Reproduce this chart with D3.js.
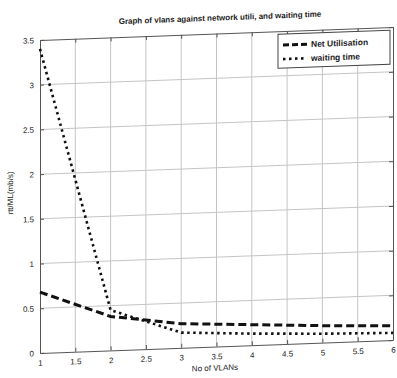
<!DOCTYPE html>
<html>
<head>
<meta charset="utf-8">
<script src="https://cdn.jsdelivr.net/npm/d3@7"></script>
<style>
  body { margin: 0; background: #fff; }
  text { font-family: "Liberation Sans", Arial, sans-serif; fill: #222; }
</style>
</head>
<body>
<script>
// chart data
var vlans = [1, 2, 3, 4, 5, 6];
var netUtil = [0.68, 0.38, 0.27, 0.23, 0.19, 0.16];
var waitTime = [3.4, 0.45, 0.17, 0.13, 0.1, 0.08];
var xTicks = [1, 1.5, 2, 2.5, 3, 3.5, 4, 4.5, 5, 5.5, 6];
var yTicks = [0, 0.5, 1, 1.5, 2, 2.5, 3, 3.5];

var W = 397, H = 378;
var margin = { top: 40, right: 4, bottom: 25, left: 40 },
  width = W - margin.left - margin.right,
  height = H - margin.top - margin.bottom;

var svg = d3.select("body").append("svg")
  .attr("width", W)
  .attr("height", H);

// the scanned page is slightly skewed
var page = svg.append("g")
  .attr("transform", "translate(40,353) skewY(-2.1) translate(-40,-353)");

var g = page.append("g")
  .attr("transform", "translate(" + margin.left + "," + margin.top + ")");

var x = d3.scaleLinear().domain([1, 6]).range([0, width]);
var y = d3.scaleLinear().domain([0, 3.5]).range([height, 0]);
var fmt = function (d) { return String(d); };

// grid
g.append("g").selectAll("line").data(xTicks.slice(1, -1)).enter().append("line")
  .attr("x1", function (d) { return x(d); }).attr("x2", function (d) { return x(d); })
  .attr("y1", 0).attr("y2", height)
  .attr("stroke", "#c4c4c4").attr("stroke-width", 1);
g.append("g").selectAll("line").data(yTicks.slice(1, -1)).enter().append("line")
  .attr("y1", function (d) { return y(d); }).attr("y2", function (d) { return y(d); })
  .attr("x1", 0).attr("x2", width)
  .attr("stroke", "#c4c4c4").attr("stroke-width", 1);

// axes, ticks pointing inward
g.append("g")
  .attr("transform", "translate(0," + height + ")")
  .call(d3.axisBottom(x).tickValues(xTicks).tickFormat(fmt).tickSizeInner(-4).tickSizeOuter(0).tickPadding(7));
g.append("g")
  .call(d3.axisLeft(y).tickValues(yTicks).tickFormat(fmt).tickSizeInner(-4).tickSizeOuter(0).tickPadding(6));
g.append("g")
  .call(d3.axisTop(x).tickValues(xTicks).tickSizeInner(-4).tickSizeOuter(0).tickFormat(""));
g.append("g")
  .attr("transform", "translate(" + width + ",0)")
  .call(d3.axisRight(y).tickValues(yTicks).tickSizeInner(-4).tickSizeOuter(0).tickFormat(""));

g.selectAll(".domain").attr("stroke", "#555");
g.selectAll(".tick line").attr("stroke", "#555");
g.selectAll(".tick text").attr("font-size", 8).attr("fill", "#222")
  .attr("font-family", "'Liberation Sans', Arial, sans-serif");

// lines
var line = function (vals) {
  return d3.line()
    .x(function (d, i) { return x(vlans[i]); })
    .y(function (d) { return y(d); })(vals);
};

g.append("path")
  .attr("d", line(netUtil))
  .attr("fill", "none").attr("stroke", "#111")
  .attr("stroke-width", 3).attr("stroke-dasharray", "8,4");

g.append("path")
  .attr("d", line(waitTime))
  .attr("fill", "none").attr("stroke", "#111")
  .attr("stroke-width", 2.6).attr("stroke-dasharray", "2.5,3.5");

// legend
var lg = g.append("g").attr("transform", "translate(" + (278 - margin.left) + ",3)");
lg.append("rect")
  .attr("width", 112).attr("height", 34)
  .attr("fill", "#fff").attr("stroke", "#444").attr("stroke-width", 1);
lg.append("line").attr("x1", 5).attr("x2", 29).attr("y1", 11).attr("y2", 11)
  .attr("stroke", "#111").attr("stroke-width", 3).attr("stroke-dasharray", "6,3");
lg.append("line").attr("x1", 5).attr("x2", 29).attr("y1", 25).attr("y2", 25)
  .attr("stroke", "#111").attr("stroke-width", 2.6).attr("stroke-dasharray", "2.5,3.5");
lg.append("text").attr("x", 33).attr("y", 14).attr("font-size", 8.5).attr("font-weight", "bold")
  .text("Net Utilisation");
lg.append("text").attr("x", 33).attr("y", 28).attr("font-size", 8.5).attr("font-weight", "bold")
  .text("waiting time");

// title and labels
page.append("text")
  .attr("x", 220).attr("y", 27)
  .attr("text-anchor", "middle").attr("font-size", 8).attr("font-weight", "bold")
  .text("Graph of vlans against network utili, and waiting time");

page.append("text")
  .attr("x", 215).attr("y", 377)
  .attr("text-anchor", "middle").attr("font-size", 8)
  .text("No of VLANs");

page.append("text")
  .attr("transform", "translate(13,192) rotate(-90)")
  .attr("text-anchor", "middle").attr("font-size", 8)
  .text("rtt/ML(mb/s)");
</script>
</body>
</html>
